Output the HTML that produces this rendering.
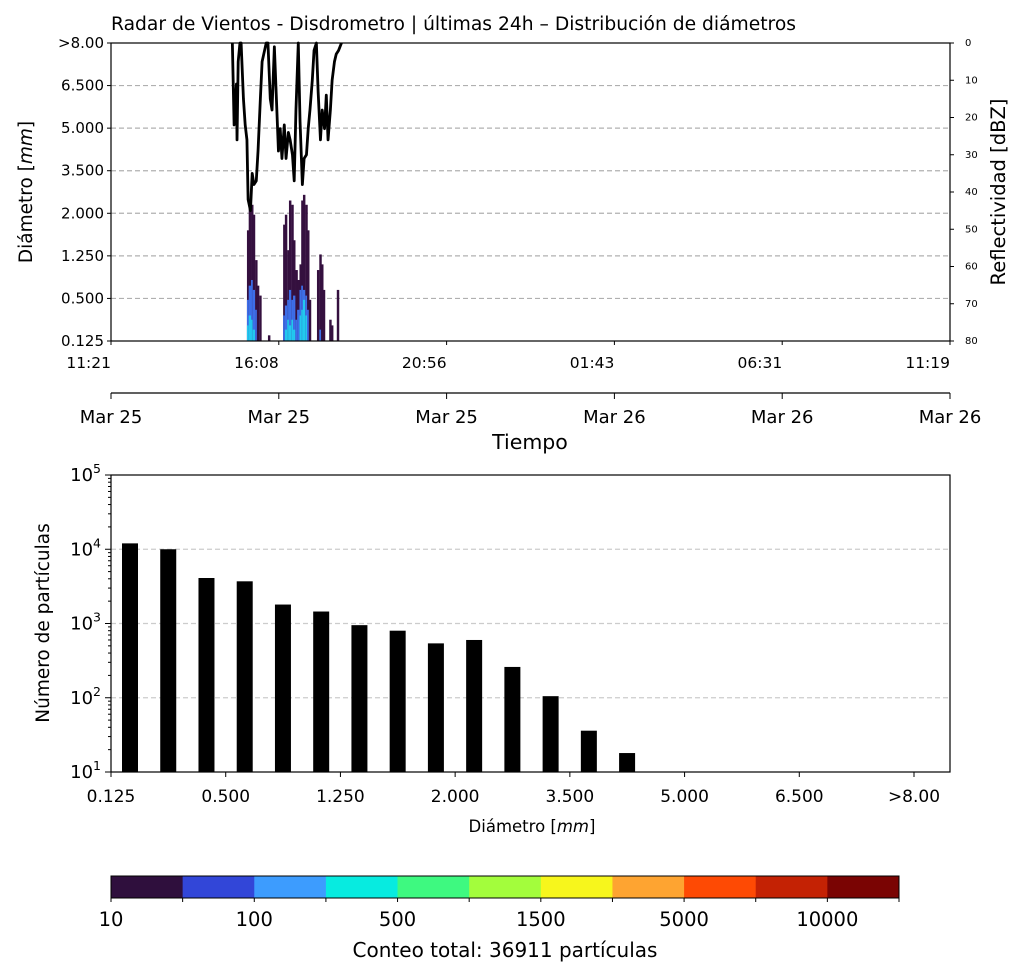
<!DOCTYPE html>
<html><head><meta charset="utf-8"><style>
body{margin:0;background:#fff;}
svg{display:block;font-family:"DejaVu Sans","Liberation Sans",sans-serif;}
</style></head><body>
<svg id="fig" width="1024" height="977" viewBox="0 0 1024 977">
<text x="111" y="30" font-size="18.7">Radar de Vientos - Disdrometro | últimas 24h – Distribución de diámetros</text>
<g id="topg"></g>
<g id="botg"></g>
<g id="cbg"></g>
</svg>
<script>
// ---- data ----
const diamLabels = ["0.125","0.500","1.250","2.000","3.500","5.000","6.500",">8.00"];
const timeLabels = ["11:21","16:08","20:56","01:43","06:31","11:19"];
const dateLabels = ["Mar 25","Mar 25","Mar 25","Mar 26","Mar 26","Mar 26"];
const reflTicks = [0,10,20,30,40,50,60,70,80];
// reflectivity line: minutes since 11:21, dBZ
const lineMin = [208,211,215,216,218,221,223,227,230,233,235,239,242,245,249,252,256,259,266,269,273,276,280,283,287,290,293,297,300,304,307,311,314,317,321,324,328,331,335,338,341,345,348,352,355,359,362,366,369,372,376,379,383,386,390,395];
const lineDbz = [0,22,11,26,5,0,0,15,22,26,42,45,35,38,37,29,15,5,0,0,15,18,1,13,29,23,31,22,31,24,26,30,37,18,0,21,38,31,30,23,18,10,2,0,13,26,18,23,14,26,18,10,5,3,2,0];
// heatmap columns: minutes, bin heights with count>=10, >=100, >=500
const hmMin  = [233,236,240,243,247,250,254,269,295,298,302,305,309,312,316,319,323,326,329,333,336,339,343,353,357,360,363,374,377,387];
const hmN10  = [7.8,9.9,9.6,8.9,5.7,3.9,3.2,0.4,8.2,8.9,6.4,9.9,9.6,7.1,5,4.3,5.4,9.9,10.3,9.6,7.8,2.9,0,5,6.1,5.4,3.6,1.5,1.1,3.6];
const hmN100 = [2.9,3.9,4.3,3.6,2.2,0,0,0,1.8,2.5,2.9,3.6,2.9,3.2,1.5,2.2,3.6,3.9,3.6,3.2,2.2,0,0,0,0.8,0,0,0,0,0];
const hmN500 = [1.1,1.8,1.5,0.8,0,0,0,0,0,0.8,1.5,1.1,1.5,0.8,0,0,1.8,2.2,2.9,1.8,0,0,0,0,0,0,0,0,0,0];
// histogram
const barCounts = [12000,10000,4100,3700,1800,1450,950,800,540,600,260,105,36,18];
const logTicks = [1,2,3,4,5];
// colorbar
const cbColors = ["#2f0f3d","#3246d8","#3d9cfe","#07ebe0","#3ef980","#a3fd3c","#f7f61c","#fea431","#fe4a04","#c42204","#7a0403"];
const cbLabels = ["10","100","500","1500","5000","10000"];

const NS="http://www.w3.org/2000/svg";
function mk(p,t,a,txt){const e=document.createElementNS(NS,t);for(const k in a)e.setAttribute(k,a[k]);if(txt!==undefined)e.textContent=txt;p.appendChild(e);return e;}

// ---- top chart ----
const topG=document.getElementById('topg');
const L=111,R=950,T=43,B=341;
const tx=m=>L+(R-L)*m/1438;
const yb=b=>B-(B-T)*b/21;
const yd=d=>T+(B-T)*d/80;
diamLabels.forEach((s,i)=>{const y=yb(i*3);
 if(i>0&&i<7){const g=mk(topG,'line',{x1:L,x2:R,y1:y,y2:y,stroke:'#b0b0b0','stroke-dasharray':'5,3','stroke-width':1.2});}
 mk(topG,'line',{x1:L-4,x2:L,y1:y,y2:y,stroke:'#000'});
 const t=mk(topG,'text',{x:L-7,y:y+5,'text-anchor':'end','font-size':15},s);
});
const colW=tx(4.2)-tx(0);
hmMin.forEach((m,i)=>{
 [[hmN10[i],'#35103f'],[hmN100[i],'#3d6ee8'],[hmN500[i],'#22c8ef']].forEach(([h,c])=>{
  if(h>0){const r=mk(topG,'rect',{x:tx(m),y:yb(h),width:colW,height:B-yb(h),fill:c});}
 });
});
const pts=lineMin.map((m,i)=>tx(m)+','+yd(lineDbz[i])).join(' ');
const pl=mk(topG,'polyline',{points:pts,fill:'none',stroke:'#000','stroke-width':2.8,'stroke-linejoin':'round'});

mk(topG,'rect',{x:L,y:T,width:R-L,height:B-T,fill:'none',stroke:'#000','stroke-width':1.2});
reflTicks.forEach(d=>{const y=yd(d);mk(topG,'line',{x1:R,x2:R+4,y1:y,y2:y,stroke:'#000'});
 const t=mk(topG,'text',{x:R+15,y:y+3,'font-size':10},String(d));});
let t1=mk(topG,'text',{x:0,y:0,'font-size':19.5,'text-anchor':'middle',transform:'translate(1005,192) rotate(-90)'},'Reflectividad [dBZ]');
t1=mk(topG,'text',{x:0,y:0,'font-size':18.5,'text-anchor':'middle',transform:'translate(32,192) rotate(-90)'});t1.innerHTML='Diámetro [<tspan font-style="italic">mm</tspan>]';
mk(topG,'line',{x1:L,x2:R,y1:393,y2:393,stroke:'#000','stroke-width':1.2});
timeLabels.forEach((s,i)=>{const x=L+(R-L)*i/5;
 mk(topG,'line',{x1:x,x2:x,y1:B,y2:B+4,stroke:'#000'});
 let t=mk(topG,'text',{x:x,y:368,'text-anchor':'end','font-size':15.5},s);
 mk(topG,'line',{x1:x,x2:x,y1:393,y2:399,stroke:'#000'});
 t=mk(topG,'text',{x:x,y:423,'text-anchor':'middle','font-size':18},dateLabels[i]);
});
t1=mk(topG,'text',{x:530,y:449,'text-anchor':'middle','font-size':20.5},'Tiempo');

// ---- histogram ----
const botG=document.getElementById('botg');
const BL=111,BR=950,BT=475,BB=772;
const ly=v=>BB-(BB-BT)*(Math.log10(v)-1)/4;
const bx=i=>BL+19+(914-BL)/21*i;
logTicks.forEach(p=>{const y=ly(Math.pow(10,p));
 if(p>1&&p<5){const g=mk(botG,'line',{x1:BL,x2:BR,y1:y,y2:y,stroke:'#cccccc','stroke-dasharray':'5,3','stroke-width':1.2});}
 mk(botG,'line',{x1:BL-6,x2:BL,y1:y,y2:y,stroke:'#000'});
 const t=mk(botG,'text',{x:BL-10,y:y+6,'text-anchor':'end','font-size':18});t.innerHTML='10<tspan dy="-8" font-size="12.5">'+p+'</tspan>';
 if(p<5)for(let k=2;k<10;k++){const yy=ly(k*Math.pow(10,p));mk(botG,'line',{x1:BL-3,x2:BL,y1:yy,y2:yy,stroke:'#000'});}
});
barCounts.forEach((v,i)=>{const r=mk(botG,'rect',{x:bx(i)-8,y:ly(v),width:16,height:BB-ly(v),fill:'#000'});});
mk(botG,'rect',{x:BL,y:BT,width:BR-BL,height:BB-BT,fill:'none',stroke:'#000','stroke-width':1.2});
diamLabels.forEach((s,i)=>{const x=BL+(914-BL)*i/7;mk(botG,'line',{x1:x,x2:x,y1:BB,y2:BB+5,stroke:'#000'});
 const t=mk(botG,'text',{x:x,y:802,'text-anchor':'middle','font-size':17},s);});
t1=mk(botG,'text',{x:532,y:832,'text-anchor':'middle','font-size':16.5});t1.innerHTML='Diámetro [<tspan font-style="italic">mm</tspan>]';
t1=mk(botG,'text',{x:0,y:0,'font-size':18.5,'text-anchor':'middle',transform:'translate(49,623) rotate(-90)'},'Número de partículas');

// ---- colorbar ----
const cbG=document.getElementById('cbg');
const CL=111,CR=899,CT=876,CB=898,sw=(CR-CL)/cbColors.length;
cbColors.forEach((c,i)=>{const r=mk(cbG,'rect',{x:CL+sw*i,y:CT,width:sw+0.5,height:CB-CT,fill:c});});
mk(cbG,'rect',{x:CL,y:CT,width:CR-CL,height:CB-CT,fill:'none',stroke:'#000'});
for(let i=0;i<=cbColors.length;i++){mk(cbG,'line',{x1:CL+sw*i,x2:CL+sw*i,y1:CB,y2:CB+4,stroke:'#000'});}
cbLabels.forEach((s,i)=>{const t=mk(cbG,'text',{x:CL+sw*2*i,y:926,'text-anchor':'middle','font-size':19.5},s);});
t1=mk(cbG,'text',{x:505,y:957,'text-anchor':'middle','font-size':20},'Conteo total: 36911 partículas');
</script>
</body></html>
